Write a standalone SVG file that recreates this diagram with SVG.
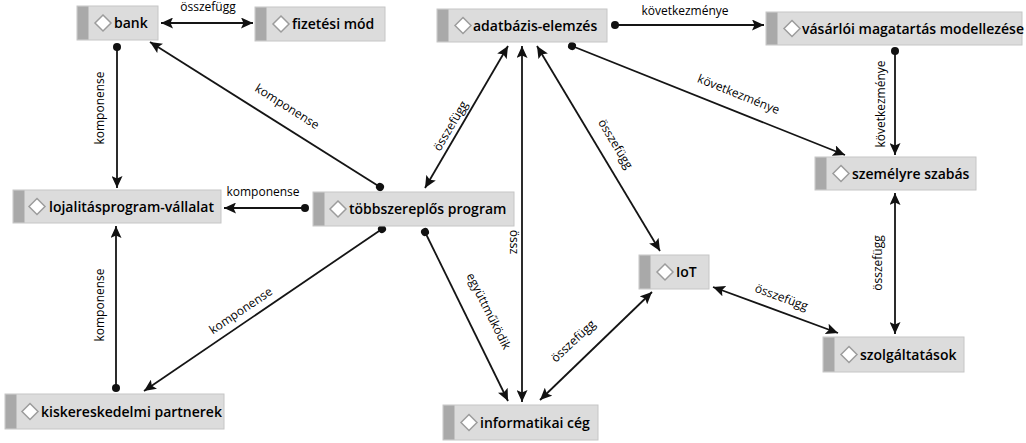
<svg xmlns="http://www.w3.org/2000/svg" width="1026" height="443" viewBox="0 0 1026 443">
<style>
.box{fill:#dcdcdc;stroke:#c6c6c6;stroke-width:1}
.strip{fill:#a9a9a9}
.dia{fill:#ffffff;stroke:#9c9c9c;stroke-width:1.5}
.nt{font-family:"Open Sans","Noto Sans",sans-serif;font-weight:600;font-size:14px;fill:#000}
.lbl{font-family:"Open Sans","Noto Sans",sans-serif;font-size:12px;fill:#000;text-anchor:middle}
.e{stroke:#151515;stroke-width:1.8;fill:none}
.a{marker-end:url(#arr)}
.d{marker-start:url(#arr);marker-end:url(#arr)}
.c{marker-start:url(#dot);marker-end:url(#arr)}
</style>
<defs>
<marker id="arr" markerUnits="userSpaceOnUse" markerWidth="13" markerHeight="11" refX="12" refY="5.5" orient="auto-start-reverse">
<path d="M0,0 L12,5.5 L0,11 L2.5,5.5 z" fill="#111"/>
</marker>
<marker id="dot" markerUnits="userSpaceOnUse" markerWidth="10" markerHeight="10" refX="5" refY="5" orient="auto">
<circle cx="5" cy="5" r="4" fill="#111"/>
</marker>
</defs>
<rect width="1026" height="443" fill="#fff"/>
<g id="connectors">
<line class="e d" x1="161" y1="23" x2="253" y2="23"/>
<text class="lbl" x="208" y="11">összefügg</text>
<line class="e c" x1="117" y1="47" x2="117" y2="188"/>
<text class="lbl" transform="translate(104,108) rotate(-90)">komponense</text>
<line class="e c" x1="380" y1="187" x2="150" y2="42"/>
<text class="lbl" transform="translate(285,110) rotate(32.3)">komponense</text>
<line class="e c" x1="305" y1="208" x2="224" y2="208"/>
<text class="lbl" x="263" y="196">komponense</text>
<line class="e c" x1="116" y1="388" x2="116" y2="226"/>
<text class="lbl" transform="translate(104,305) rotate(-90)">komponense</text>
<line class="e c" x1="382" y1="229" x2="144" y2="391"/>
<text class="lbl" transform="translate(243,314) rotate(-34)">komponense</text>
<line class="e d" x1="425" y1="188" x2="508" y2="46"/>
<text class="lbl" transform="translate(454,128) rotate(-59.5)">összefügg</text>
<line class="e d" x1="522" y1="46" x2="522" y2="402"/>
<text class="lbl" transform="translate(510,242) rotate(90)">össz</text>
<line class="e d" x1="537" y1="46" x2="660" y2="251"/>
<text class="lbl" transform="translate(612,146) rotate(58.8)">összefügg</text>
<line class="e c" x1="425" y1="232" x2="508" y2="401"/>
<text class="lbl" transform="translate(485,313) rotate(63.4)">együttműködik</text>
<line class="e d" x1="652" y1="292" x2="540" y2="400"/>
<text class="lbl" transform="translate(576,344) rotate(-43)">összefügg</text>
<line class="e c" x1="615" y1="25" x2="764" y2="25"/>
<text class="lbl" x="685" y="15">következménye</text>
<line class="e c" x1="895" y1="51" x2="895" y2="155"/>
<text class="lbl" transform="translate(885,104) rotate(-90)">következménye</text>
<line class="e c" x1="572" y1="46" x2="845" y2="155"/>
<text class="lbl" transform="translate(737,98) rotate(21.8)">következménye</text>
<line class="e d" x1="895" y1="193" x2="895" y2="334"/>
<text class="lbl" transform="translate(882,263) rotate(-90)">összefügg</text>
<line class="e d" x1="713" y1="287" x2="838" y2="333"/>
<text class="lbl" transform="translate(780,301) rotate(20)">összefügg</text>
</g>
<g id="bank"><rect class="box" x="77" y="6" width="81" height="34"/><rect class="strip" x="77.5" y="6.5" width="11" height="33"/><polygon class="dia" points="103,15 111,23 103,31 95,23"/><text class="nt" x="114" y="28">bank</text></g>
<g id="fizetesi-mod"><rect class="box" x="255" y="7" width="130" height="34"/><rect class="strip" x="255.5" y="7.5" width="11" height="33"/><polygon class="dia" points="281,16 289,24 281,32 273,24"/><text class="nt" x="292" y="29">fizetési mód</text></g>
<g id="adatbazis-elemzes"><rect class="box" x="437" y="9" width="170" height="33"/><rect class="strip" x="437.5" y="9.5" width="11" height="32"/><polygon class="dia" points="463,17.5 471,25.5 463,33.5 455,25.5"/><text class="nt" x="473" y="30.5">adatbázis-elemzés</text></g>
<g id="vasarloi-magatartas"><rect class="box" x="766" y="12" width="256" height="33"/><rect class="strip" x="766.5" y="12.5" width="11" height="32"/><polygon class="dia" points="792,20.5 800,28.5 792,36.5 784,28.5"/><text class="nt" x="802" y="33.5">vásárlói magatartás modellezése</text></g>
<g id="szemelyre-szabas"><rect class="box" x="815" y="157" width="161" height="33"/><rect class="strip" x="815.5" y="157.5" width="11" height="32"/><polygon class="dia" points="841,165.5 849,173.5 841,181.5 833,173.5"/><text class="nt" x="852" y="178.5">személyre szabás</text></g>
<g id="lojalitasprogram-vallalat"><rect class="box" x="13" y="190" width="208" height="33"/><rect class="strip" x="13.5" y="190.5" width="11" height="32"/><polygon class="dia" points="37,198.5 45,206.5 37,214.5 29,206.5"/><text class="nt" x="49" y="211.5">lojalitásprogram-vállalat</text></g>
<g id="tobbszereplos-program"><rect class="box" x="313" y="192" width="201" height="34"/><rect class="strip" x="313.5" y="192.5" width="11" height="33"/><polygon class="dia" points="338,201 346,209 338,217 330,209"/><text class="nt" x="349" y="214">többszereplős program</text></g>
<g id="iot"><rect class="box" x="639" y="255" width="70" height="34"/><rect class="strip" x="639.5" y="255.5" width="11" height="33"/><polygon class="dia" points="665,264 673,272 665,280 657,272"/><text class="nt" x="676" y="277">IoT</text></g>
<g id="szolgaltatasok"><rect class="box" x="823" y="337" width="141" height="35"/><rect class="strip" x="823.5" y="337.5" width="11" height="34"/><polygon class="dia" points="849,346.5 857,354.5 849,362.5 841,354.5"/><text class="nt" x="860" y="359.5">szolgáltatások</text></g>
<g id="kiskereskedelmi-partnerek"><rect class="box" x="5" y="394" width="219" height="35"/><rect class="strip" x="5.5" y="394.5" width="11" height="34"/><polygon class="dia" points="30,403.5 38,411.5 30,419.5 22,411.5"/><text class="nt" x="41" y="416.5">kiskereskedelmi partnerek</text></g>
<g id="informatikai-ceg"><rect class="box" x="443" y="405" width="155" height="35"/><rect class="strip" x="443.5" y="405.5" width="11" height="34"/><polygon class="dia" points="469,414.5 477,422.5 469,430.5 461,422.5"/><text class="nt" x="480" y="427.5">informatikai cég</text></g>
</svg>
